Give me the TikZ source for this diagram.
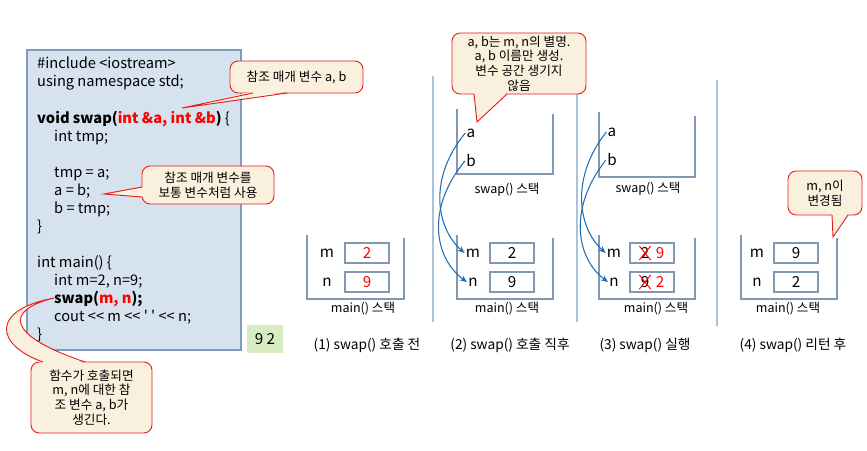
\documentclass[tikz,border=0pt]{standalone}
\usepackage{fontspec}
\setmainfont{Noto Sans CJK KR}
\newfontfamily\codefont{Noto Sans CJK KR}[Ligatures=TeXOff]
\usetikzlibrary{arrows.meta}

\definecolor{codebg}{RGB}{214,227,239}
\definecolor{codeline}{RGB}{126,157,190}
\definecolor{outgreen}{RGB}{216,236,196}
\definecolor{callbg}{RGB}{250,240,222}
\definecolor{callred}{RGB}{232,30,30}
\definecolor{stackline}{RGB}{132,151,176}
\definecolor{sepline}{RGB}{172,194,216}
\definecolor{ptrblue}{RGB}{31,110,180}

\begin{document}
\begin{tikzpicture}[
	x=0.03cm, y=-0.03cm,
	font=\fontsize{13}{15}\selectfont,
	code/.style={anchor=base west, inner sep=0pt, font=\fontsize{12.5}{15}\codefont},
	note/.style={draw=callred, fill=callbg, line width=0.8pt, rounded corners=7pt,
		align=center, inner sep=0pt, font=\fontsize{10.8}{12.5}\selectfont},
	noteline/.style={draw=callred, line width=0.8pt},
	stack/.style={draw=stackline, line width=1pt},
	cell/.style={draw=stackline, fill=white, line width=1pt, minimum width=1.32cm,
		minimum height=0.6cm, inner sep=0pt},
	lbl/.style={inner sep=1pt},
	small/.style={font=\fontsize{10.7}{12}\selectfont},
	caption/.style={font=\fontsize{11.7}{13}\selectfont},
	sep/.style={draw=sepline, line width=1pt},
	ptr/.style={draw=ptrblue, line width=0.9pt, -{Stealth[length=6pt,width=5pt]}},
	]
\useasboundingbox (0,0) rectangle (867,451);

% code
\node[draw=codeline, fill=codebg, line width=1pt, minimum width=6.42cm, minimum height=9cm] (codebox) at (134,200) {};
\node[code] (l1) at (37,69) {\#include <iostream>};
\node[code] (l2) at (37,87) {using namespace std;};
\node[code] (l3) at (37,123) {\textbf{void swap(\textcolor{red}{int \&a, int \&b})} \{};
\node[code] (l4) at (54,141) {int tmp;};
\node[code] (l5) at (54,177) {tmp = a;};
\node[code] (l6) at (54,195) {a = b;};
\node[code] (l7) at (54,213) {b = tmp;};
\node[code] (l8) at (37,231) {\}};
\node[code] (l9) at (37,267) {int main() \{};
\node[code] (l10) at (54,285) {int m=2, n=9;};
\node[code] (l11) at (54,303) {\textbf{swap(\textcolor{red}{m, n});}};
\node[code] (l12) at (54,321) {cout << m << ' ' << n;};
\node[code] (l13) at (37,339) {\}};
\node[fill=outgreen, minimum width=1.08cm, minimum height=0.84cm, inner sep=0pt] (out) at (265,339) {9 2};

% separators
\draw[sep] (433,76) -- (433,322);
\draw[sep] (577,76) -- (577,322);
\draw[sep] (717,80) -- (717,326);

% (1)
\draw[stack] (307,235) |- (404,299) -- (404,238);
\node[lbl] (m1) at (327,253) {m};
\node[lbl] (n1) at (327,282) {n};
\node[cell, text=red] (m1v) at (367,253) {2};
\node[cell, text=red] (n1v) at (367,282) {9};
\node[small] (main1) at (363,309) {main() 스택};
\node[caption] (cap1) at (367,345) {(1) swap() 호출 전};

% (2)
\draw[stack] (457,109) |- (553,174) -- (553,114);
\node[lbl] (a2) at (471,133) {a};
\node[lbl] (b2) at (471,161) {b};
\node[small] (swap2) at (507,190) {swap() 스택};
\draw[stack] (457,235) |- (553,299) -- (553,238);
\node[lbl] (m2) at (473,253) {m};
\node[lbl] (n2) at (473,282) {n};
\node[cell] (m2v) at (512,253) {2};
\node[cell] (n2v) at (512,282) {9};
\node[small] (main2) at (507,309) {main() 스택};
\node[caption] (cap2) at (510,345) {(2) swap() 호출 직후};
\draw[ptr] (a2.west) .. controls (428,178) and (436,228) .. (m2.west);
\draw[ptr] (b2.west) .. controls (426,208) and (434,258) .. (n2.west);

% (3)
\draw[stack] (599,112) |- (695,177) -- (695,116);
\node[lbl] (a3) at (612,132) {a};
\node[lbl] (b3) at (612,160) {b};
\node[small] (swap3) at (648,189) {swap() 스택};
\draw[stack] (599,235) |- (695,299) -- (695,238);
\node[lbl] (m3) at (614,253) {m};
\node[lbl] (n3) at (614,282) {n};
\node[cell] (m3v) at (652,253) {};
\node[cell] (n3v) at (652,282) {};
\node[inner sep=1pt] (m3old) at (645,253) {2};
\node[text=red, inner sep=1pt] (m3new) at (660,253) {9};
\node[inner sep=1pt] (n3old) at (645,282) {9};
\node[text=red, inner sep=1pt] (n3new) at (660,282) {2};
\draw[red, line width=0.8pt] (m3old.north west) -- (m3old.south east) (m3old.south west) -- (m3old.north east);
\draw[red, line width=0.8pt] (n3old.north west) -- (n3old.south east) (n3old.south west) -- (n3old.north east);
\node[small] (main3) at (656,309) {main() 스택};
\node[caption] (cap3) at (645,345) {(3) swap() 실행};
\draw[ptr] (a3.west) .. controls (570,178) and (578,228) .. (m3.west);
\draw[ptr] (b3.west) .. controls (568,208) and (576,258) .. (n3.west);

% (4)
\draw[stack] (741,235) |- (837,299) -- (837,238);
\node[lbl] (m4) at (757,253) {m};
\node[lbl] (n4) at (757,282) {n};
\node[cell] (m4v) at (796,253) {9};
\node[cell] (n4v) at (796,282) {2};
\node[small] (main4) at (788,309) {main() 스택};
\node[caption] (cap4) at (793,345) {(4) swap() 리턴 후};

% callouts
\coordinate (tip1) at (182,108);
\coordinate (tip2) at (104,194);
\coordinate (tip3) at (54,298);
\coordinate (tip4) at (477,122);
\coordinate (tip5) at (833,237);

\node[note, minimum width=3.99cm, minimum height=0.96cm] (note1) at (296.5,77) {참조 매개 변수 a, b};
\fill[callbg] (253,91.5) -- (tip1) -- (287,91.5) -- cycle;
\draw[noteline] (253,93) -- (tip1) -- (287,93);

\node[note, minimum width=3.96cm, minimum height=1.14cm] (note2) at (208,185) {참조 매개 변수를\\보통 변수처럼 사용};
\fill[callbg] (143.5,187) -- (tip2) -- (143.5,197) -- cycle;
\draw[noteline] (142,187) -- (tip2) -- (142,197);

\node[note, minimum width=3.63cm, minimum height=2.13cm] (note3) at (91.5,397.5) {함수가 호출되면\\m, n에 대한 참\\조 변수 a, b가\\생긴다.};
\fill[callbg] (43,363.5) .. controls (-5,345) and (-10,310) .. (tip3) .. controls (5,310) and (5,335) .. (85,363.5) -- cycle;
\draw[noteline] (43,362) .. controls (-5,345) and (-10,310) .. (tip3) .. controls (5,310) and (5,335) .. (85,362);

\node[note, minimum width=4.02cm, minimum height=1.83cm] (note4) at (519,63.5) {a, b는 m, n의 별명.\\a, b 이름만 생성.\\변수 공간 생기지\\않음};
\fill[callbg] (474,92.5) -- (tip4) -- (507,92.5) -- cycle;
\draw[noteline] (474,94) -- (tip4) -- (507,94);

\node[note, minimum width=2.22cm, minimum height=1.32cm] (note5) at (825,193) {m, n이\\변경됨};
\fill[callbg] (832,213.5) -- (tip5) -- (848,213.5) -- cycle;
\draw[noteline] (832,215) -- (tip5) -- (848,215);
\end{tikzpicture}
\end{document}
